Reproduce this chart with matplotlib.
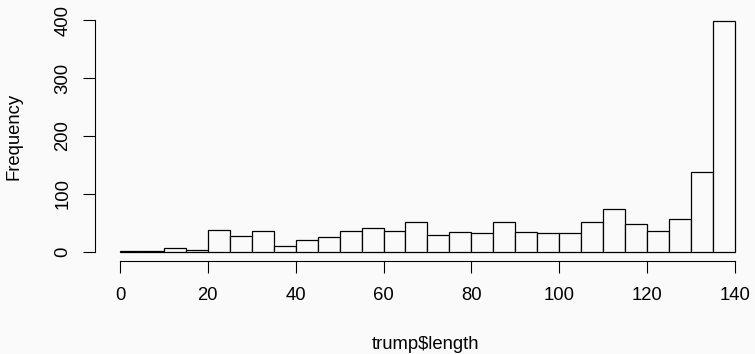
"""Histogram of tweet lengths (R base hist look-alike)."""
import matplotlib
matplotlib.use("Agg")
import matplotlib.pyplot as plt

plt.rcParams["font.family"] = ["Liberation Sans", "DejaVu Sans"]

# bin edges (width 5, 0..140) and counts
bin_edges = list(range(0, 145, 5))
counts = [1, 1, 7, 3, 37, 28, 36, 10, 21, 26,
          36, 41, 35, 52, 29, 34, 33, 52, 34, 32,
          33, 52, 74, 48, 36, 56, 138, 399]
x_ticks = [0, 20, 40, 60, 80, 100, 120, 140]
y_ticks = [0, 100, 200, 300, 400]

BG = "#fafafa"
W, H = 755, 354
fig = plt.figure(figsize=(W / 100, H / 100), dpi=100, facecolor=BG)
# plot region in pixels: left 95, right 755, top 11, bottom 261
ax = fig.add_axes([95 / W, 1 - 261 / H, (755 - 95) / W, (261 - 11) / H])
ax.set_facecolor(BG)

widths = [b - a for a, b in zip(bin_edges[:-1], bin_edges[1:])]
ax.bar(bin_edges[:-1], counts, width=widths, align="edge",
       facecolor=BG, edgecolor="black", linewidth=0.9)

ax.set_xlim(-5.7, 144.6)
ax.set_ylim(-16, 416)

for side in ("top", "right"):
    ax.spines[side].set_visible(False)
ax.spines["left"].set_bounds(0, 400)
ax.spines["bottom"].set_bounds(0, 140)
for side in ("left", "bottom"):
    ax.spines[side].set_linewidth(0.8)

ax.set_xticks(x_ticks)
ax.set_yticks(y_ticks)
ax.set_yticklabels([str(v) for v in y_ticks], rotation=90, va="center")
ax.tick_params(direction="out", length=8.5, width=0.8, labelsize=13.3)
ax.tick_params(axis="x", pad=10.5)
ax.tick_params(axis="y", pad=8.5)

ax.set_xlabel("trump$length", fontsize=13.3, labelpad=23)
ax.set_ylabel("Frequency", fontsize=13.3, labelpad=23)

fig.savefig("out.png", dpi=100, facecolor=BG)
